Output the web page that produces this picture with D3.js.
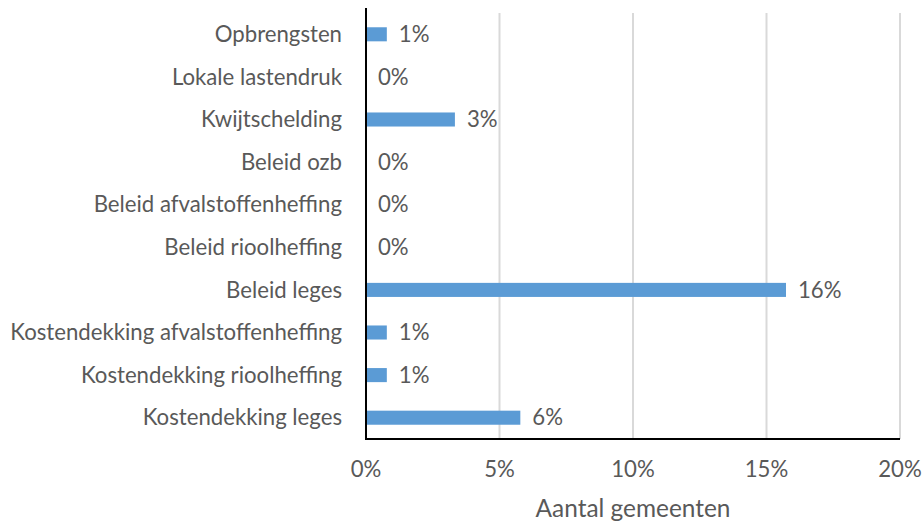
<!DOCTYPE html>
<html><head><meta charset="utf-8">
<script src="https://cdn.jsdelivr.net/npm/d3@7"></script>
<style>body{margin:0;background:#fff}svg{display:block}text{font-family:Lato,"Open Sans",sans-serif;fill:#595959}</style>
</head><body><svg id="c" width="924" height="523"></svg>
<script>
const categories = ["Opbrengsten","Lokale lastendruk","Kwijtschelding","Beleid ozb","Beleid afvalstoffenheffing","Beleid rioolheffing","Beleid leges","Kostendekking afvalstoffenheffing","Kostendekking rioolheffing","Kostendekking leges"];
const values = [0.78, 0, 3.33, 0, 0, 0, 15.73, 0.78, 0.78, 5.78];
const valueLabels = ["1%","0%","3%","0%","0%","0%","16%","1%","1%","6%"];
const xTicks = [0,5,10,15,20];
const xTitle = "Aantal gemeenten";

const svg = d3.select("#c");
const L = 366, R = 900, T = 13, B = 439;
const x = d3.scaleLinear().domain([0,20]).range([L,R]);
const y = d3.scaleBand().domain(categories).range([T,B]).paddingInner(0.67).paddingOuter(0.335);

// gridlines
svg.append("g").selectAll("line").data(xTicks.slice(1)).join("line")
  .attr("x1",d=>x(d)).attr("x2",d=>x(d)).attr("y1",T).attr("y2",B)
  .attr("stroke","#d9d9d9").attr("stroke-width",2);

// bars
svg.append("g").selectAll("rect").data(values).join("rect")
  .attr("x",x(0)).attr("y",(d,i)=>y(categories[i]))
  .attr("width",d=>x(d)-x(0)).attr("height",y.bandwidth())
  .attr("fill","#5b9bd5");

// axes lines
svg.append("line").attr("x1",L).attr("x2",L).attr("y1",T-5).attr("y2",B).attr("stroke","#000").attr("stroke-width",2);
svg.append("line").attr("x1",L-1).attr("x2",R).attr("y1",B).attr("y2",B).attr("stroke","#000").attr("stroke-width",2);

// category labels
const cl = svg.append("g").selectAll("text").data(categories).join("text")
  .attr("x",342).attr("y",d=>y(d)+y.bandwidth()/2).attr("dy","0.35em")
  .attr("text-anchor","end").attr("font-size",18).text(d=>d);
let maxW = 0; cl.each(function(){maxW=Math.max(maxW,this.getComputedTextLength());});
const fs = 18*332/maxW;
cl.attr("font-size",fs);

// value labels
svg.append("g").selectAll("text").data(values).join("text")
  .attr("x",d=>x(d)+12).attr("y",(d,i)=>y(categories[i])+y.bandwidth()/2)
  .attr("dy","0.35em").attr("font-size",fs).text((d,i)=>valueLabels[i]);

// x tick labels
svg.append("g").selectAll("text").data(xTicks).join("text")
  .attr("x",d=>x(d)).attr("y",469).attr("dy","0.35em").attr("text-anchor","middle")
  .attr("font-size",fs).text(d=>d+"%");

svg.append("text").attr("x",(L+R)/2).attr("y",508).attr("dy","0.35em").attr("text-anchor","middle")
  .attr("font-size",fs*1.1).text(xTitle);
</script></body></html>
